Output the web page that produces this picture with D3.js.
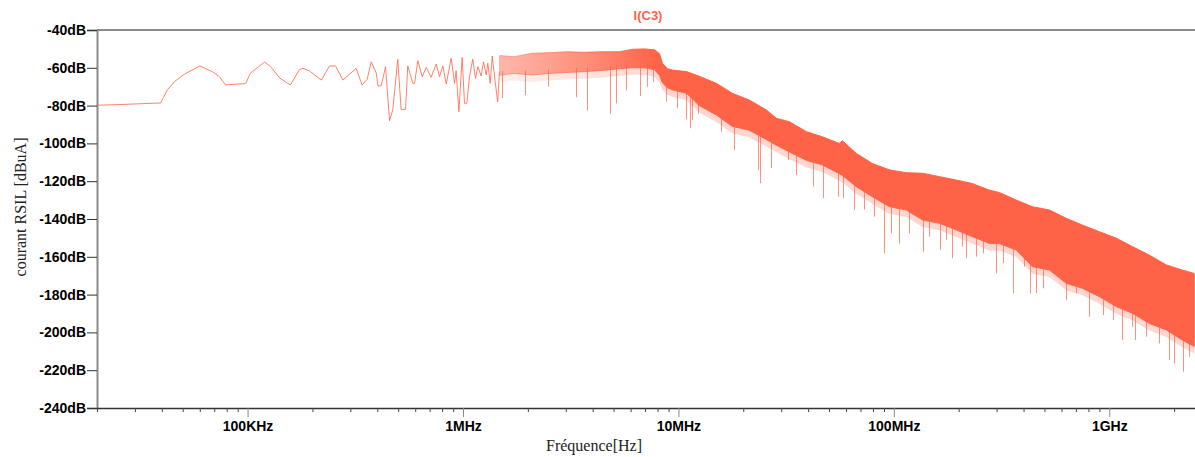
<!DOCTYPE html>
<html>
<head>
<meta charset="utf-8">
<script src="https://cdn.jsdelivr.net/npm/d3@7"></script>
<style>
  body { margin: 0; background: #fff; }
  svg { display: block; }
</style>
</head>
<body>
<svg id="chart" width="1195" height="457"></svg>
<script>
// Low-frequency part of the spectrum: resolved harmonics (Hz, dBuA)
const lowFreq = [
  20e3, 25e3, 32e3, 39.5e3, 40.7e3, 42.6e3, 45.8e3, 51e3, 60e3, 69e3, 74e3, 79e3, 87e3, 98e3,
  103e3, 120e3, 128e3, 141e3, 158e3, 174e3, 181e3, 194e3, 220e3, 240e3, 256e3, 277e3, 319e3,
  340e3, 359e3, 375e3, 396e3, 403e3, 417e3, 437e3, 456e3, 472e3, 498e3, 516e3, 541e3, 554e3,
  585e3, 596e3, 617e3, 647e3, 675e3, 711e3, 751e3, 778e3, 806e3, 836e3, 881e3, 914e3, 929e3,
  957e3, 991e3, 1.016e6, 1.042e6, 1.072e6, 1.110e6, 1.143e6, 1.172e6, 1.214e6, 1.245e6,
  1.282e6, 1.304e6, 1.337e6, 1.367e6, 1.416e6, 1.449e6, 1.476e6
];
const lowDb = [
  -79.8, -79.5, -79.0, -78.6, -75.6, -71.4, -67.3, -63.3, -59.0, -62.2, -64.7, -69.1, -68.7, -68.4,
  -62.9, -56.9, -59.4, -65.4, -69.1, -61.0, -60.3, -61.7, -66.5, -59.0, -59.0, -66.5, -60.3,
  -69.1, -66.1, -56.8, -62.9, -69.6, -69.6, -59.4, -88.0, -82.3, -55.5, -82.0, -82.0, -59.0,
  -68.2, -68.2, -56.2, -64.7, -59.8, -65.0, -58.0, -64.7, -59.0, -68.6, -55.0, -68.2, -61.5,
  -83.2, -54.5, -78.8, -78.8, -64.7, -55.5, -65.6, -59.4, -64.3, -56.8, -63.8, -57.6, -68.2,
  -53.8, -69.1, -78.0, -62.0
];

// Dense part of the spectrum: upper and lower edge of the noise band (Hz, dBuA)
const bandFreq = [
  1.48e6, 1.73e6, 2.10e6, 2.52e6, 3.02e6, 3.66e6, 4.30e6, 5.32e6, 6.12e6, 6.95e6, 7.74e6, 8.17e6,
  8.43e6, 8.89e6, 9.38e6, 1.09e7, 1.25e7, 1.50e7, 1.78e7, 2.13e7, 2.56e7, 2.85e7, 3.27e7, 3.93e7,
  4.66e7, 5.58e7, 5.77e7, 6.70e7, 7.94e7, 9.53e7, 1.14e8, 1.36e8, 1.63e8, 1.95e8, 2.31e8, 2.77e8,
  3.09e8, 3.70e8, 4.40e8, 5.27e8, 6.31e8, 7.50e8, 9.00e8, 1.08e9, 1.28e9, 1.53e9, 1.84e9, 2.18e9,
  2.48e9
];
const bandTop = [
  -53.5, -54.1, -52.3, -52.0, -51.5, -51.8, -51.5, -51.5, -50.2, -50.0, -50.5, -52.5,
  -57.6, -60.5, -61.2, -62.0, -64.5, -68.2, -73.5, -77.0, -82.3, -86.7, -88.5, -93.8,
  -96.5, -100.0, -98.6, -105.3, -110.6, -114.0, -115.5, -115.8, -117.6, -119.4, -121.2, -124.7,
  -126.0, -130.0, -133.5, -135.2, -139.6, -143.2, -146.7, -150.2, -154.6, -159.0, -164.3, -167.0,
  -168.8
];
const bandBottom = [
  -64.0, -63.0, -63.8, -63.0, -62.5, -62.0, -61.5, -60.5, -60.0, -60.0, -61.0, -64.0,
  -68.0, -70.5, -71.7, -73.5, -80.0, -85.0, -91.0, -93.0, -98.0, -101.0, -104.5, -109.0,
  -111.4, -116.0, -117.0, -122.9, -128.2, -133.5, -135.2, -140.5, -142.3, -145.8, -149.3, -152.9,
  -153.0, -156.4, -165.2, -167.0, -174.0, -176.7, -181.1, -186.4, -189.9, -195.2, -198.7, -204.0,
  -207.5
];

// Deep notches reaching below the noise band (Hz, dBuA)
const dipFreq = [
  1.52e6, 1.95e6, 2.47e6, 3.33e6, 3.78e6, 4.83e6, 5.15e6, 5.68e6, 6.64e6, 7.11e6, 7.66e6, 8.77e6,
  9.89e6, 1.09e7, 1.13e7, 1.16e7, 1.23e7, 1.58e7, 1.81e7, 2.33e7, 2.40e7, 2.69e7, 3.24e7, 3.52e7,
  4.20e7, 4.71e7, 5.48e7, 5.79e7, 6.56e7, 7.30e7, 8.13e7, 9.04e7, 9.71e7, 1.06e8, 1.18e8, 1.36e8,
  1.46e8, 1.63e8, 1.75e8, 1.87e8, 2.08e8, 2.16e8, 2.41e8, 2.58e8, 2.98e8, 3.20e8, 3.56e8, 4.03e8,
  4.29e8, 4.57e8, 4.91e8, 6.30e8, 7.01e8, 8.07e8, 9.31e8, 1.04e9, 1.15e9, 1.28e9, 1.31e9, 1.48e9,
  1.71e9, 1.90e9, 2.00e9, 2.21e9, 2.35e9
];
const dipDb = [
  -76.0, -74.5, -70.0, -75.6, -82.7, -84.4, -78.8, -72.0, -74.9, -70.0, -67.5, -77.9,
  -81.4, -87.2, -92.0, -87.5, -84.4, -93.8, -103.5, -114.0, -121.0, -113.0, -108.8, -116.8,
  -122.9, -129.0, -128.2, -129.0, -135.2, -135.0, -138.8, -158.2, -147.6, -153.0, -147.6, -157.3,
  -149.3, -156.4, -151.0, -160.8, -154.6, -160.8, -159.9, -158.2, -168.8, -163.4, -179.3, -165.2,
  -179.3, -179.3, -176.7, -182.9, -179.3, -191.7, -190.8, -193.4, -204.0, -197.0, -204.0, -202.3,
  -205.8, -214.6, -216.4, -220.8, -213.0
];

// Axis ticks
const xMajorTicks = [1e5, 1e6, 1e7, 1e8, 1e9];
const xMajorLabels = ["100KHz", "1MHz", "10MHz", "100MHz", "1GHz"];
const yTicks = [-40, -60, -80, -100, -120, -140, -160, -180, -200, -220, -240];
const yLabels = ["-40dB", "-60dB", "-80dB", "-100dB", "-120dB", "-140dB", "-160dB",
                 "-180dB", "-200dB", "-220dB", "-240dB"];

const traceName = "I(C3)";
const xTitle = "Fréquence[Hz]";
const yTitle = "courant RSIL [dBuA]";

(function draw() {
  const color = "#ff6347";
  const svg = d3.select("#chart");
  const mLeft = 97, mRight = 1195, mTop = 30, mBottom = 408;

  const x = d3.scaleLog().domain([2e4, 2.5e9]).range([mLeft, mRight]);
  const y = d3.scaleLinear().domain([-240, -40]).range([mBottom, mTop]);

  // minor ticks: 2..9 × each decade within the domain
  const xMinorTicks = [];
  for (let e = 4; e <= 9; e++) {
    for (let k = 2; k <= 9; k++) {
      const v = k * Math.pow(10, e);
      if (v >= 2e4 && v <= 2.5e9) xMinorTicks.push(v);
    }
  }

  const defs = svg.append("defs");
  // the band thickens from separate harmonics into a solid band
  function fadeGradient(id, o0, o1, o2) {
    const g = defs.append("linearGradient")
      .attr("id", id)
      .attr("gradientUnits", "userSpaceOnUse")
      .attr("x1", x(1.45e6)).attr("x2", x(8e6))
      .attr("y1", 0).attr("y2", 0);
    g.append("stop").attr("offset", 0).attr("stop-color", color).attr("stop-opacity", o0);
    g.append("stop").attr("offset", 0.6).attr("stop-color", color).attr("stop-opacity", o1);
    g.append("stop").attr("offset", 1).attr("stop-color", color).attr("stop-opacity", o2);
  }
  fadeGradient("bandFade", 0.45, 0.75, 1);
  fadeGradient("fringeFade", 0.1, 0.18, 0.26);

  defs.append("clipPath").attr("id", "plotClip")
    .append("rect").attr("x", mLeft).attr("y", mTop)
    .attr("width", mRight - mLeft).attr("height", mBottom - mTop);

  const plot = svg.append("g").attr("clip-path", "url(#plotClip)");

  const bandData = bandFreq.map((f, i) => ({ f, t: bandTop[i], b: bandBottom[i] }));

  // soft fringe under the solid band (partially covered by short notches)
  plot.append("path")
    .datum(bandData)
    .attr("fill", "url(#fringeFade)")
    .attr("d", d3.area().x(d => x(d.f)).y0(d => y(d.b) + 7).y1(d => y(d.b)));

  // band of dense noise
  plot.append("path")
    .datum(bandData)
    .attr("fill", "url(#bandFade)")
    .attr("stroke", "url(#bandFade)")
    .attr("stroke-width", 1)
    .attr("d", d3.area().x(d => x(d.f)).y0(d => y(d.b)).y1(d => y(d.t)));

  // lower edge of the band at a given frequency (log-linear)
  const bis = d3.bisector(d => d).left;
  function bandBottomAt(f) {
    const i = bis(bandFreq, f);
    if (i <= 0) return bandBottom[0];
    if (i >= bandFreq.length) return bandBottom[bandFreq.length - 1];
    const f0 = bandFreq[i - 1], f1 = bandFreq[i];
    const t = (Math.log(f) - Math.log(f0)) / (Math.log(f1) - Math.log(f0));
    return bandBottom[i - 1] + t * (bandBottom[i] - bandBottom[i - 1]);
  }

  // notches
  plot.append("g")
    .selectAll("line")
    .data(dipFreq.map((f, i) => ({ f, v: dipDb[i] })))
    .join("line")
    .attr("x1", d => Math.round(x(d.f)) + 0.5)
    .attr("x2", d => Math.round(x(d.f)) + 0.5)
    .attr("y1", d => y(bandBottomAt(d.f)) - 4)
    .attr("y2", d => y(d.v))
    .attr("stroke", color)
    .attr("stroke-opacity", 0.7)
    .attr("stroke-width", 1);

  // resolved low-frequency trace
  plot.append("path")
    .datum(lowFreq.map((f, i) => ({ f, v: lowDb[i] })))
    .attr("fill", "none")
    .attr("stroke", color)
    .attr("stroke-opacity", 0.8)
    .attr("stroke-width", 1)
    .attr("stroke-linejoin", "round")
    .attr("d", d3.line().x(d => x(d.f)).y(d => y(d.v)));

  // frame: top line
  svg.append("line")
    .attr("x1", mLeft).attr("x2", mRight).attr("y1", mTop).attr("y2", mTop)
    .attr("stroke", "#8a8a8a").attr("stroke-width", 2);

  // y axis
  const yAxis = svg.append("g")
    .attr("transform", `translate(${mLeft},0)`)
    .call(d3.axisLeft(y).tickValues(yTicks).tickFormat((d, i) => yLabels[i]).tickSize(10).tickPadding(1));
  yAxis.select(".domain").attr("stroke", "#8a8a8a").attr("stroke-width", 2);
  yAxis.selectAll(".tick line").attr("stroke", "#333");
  yAxis.selectAll("text")
    .attr("font-family", "'Liberation Sans', Arial, sans-serif")
    .attr("font-weight", "bold")
    .attr("font-size", 14)
    .attr("fill", "#000");

  // x axis: minor ticks
  const xMinor = svg.append("g")
    .attr("transform", `translate(0,${mBottom})`)
    .call(d3.axisBottom(x).tickValues(xMinorTicks).tickFormat("").tickSize(4).tickSizeOuter(0));
  xMinor.select(".domain").attr("stroke", "#333").attr("stroke-width", 1.5);
  xMinor.selectAll(".tick line").attr("stroke", "#444");

  // x axis: major ticks
  const xMajor = svg.append("g")
    .attr("transform", `translate(0,${mBottom})`)
    .call(d3.axisBottom(x).tickValues(xMajorTicks).tickFormat((d, i) => xMajorLabels[i]).tickSize(9).tickPadding(4));
  xMajor.select(".domain").remove();
  xMajor.selectAll(".tick line").attr("stroke", "#888");
  xMajor.selectAll("text")
    .attr("font-family", "'Liberation Sans', Arial, sans-serif")
    .attr("font-weight", "bold")
    .attr("font-size", 14)
    .attr("fill", "#000");

  // titles
  svg.append("text")
    .attr("x", (mLeft + mRight) / 2 + 2).attr("y", 20)
    .attr("text-anchor", "middle")
    .attr("font-family", "'Liberation Sans', Arial, sans-serif")
    .attr("font-weight", "bold")
    .attr("font-size", 13)
    .attr("fill", color)
    .text(traceName);

  svg.append("text")
    .attr("x", 594).attr("y", 451)
    .attr("text-anchor", "middle")
    .attr("font-family", "'Liberation Serif', 'Times New Roman', serif")
    .attr("font-size", 16)
    .attr("fill", "#222")
    .text(xTitle);

  svg.append("text")
    .attr("transform", "translate(26,207) rotate(-90)")
    .attr("text-anchor", "middle")
    .attr("font-family", "'Liberation Serif', 'Times New Roman', serif")
    .attr("font-size", 16)
    .attr("fill", "#222")
    .text(yTitle);
})();
</script>
</body>
</html>
